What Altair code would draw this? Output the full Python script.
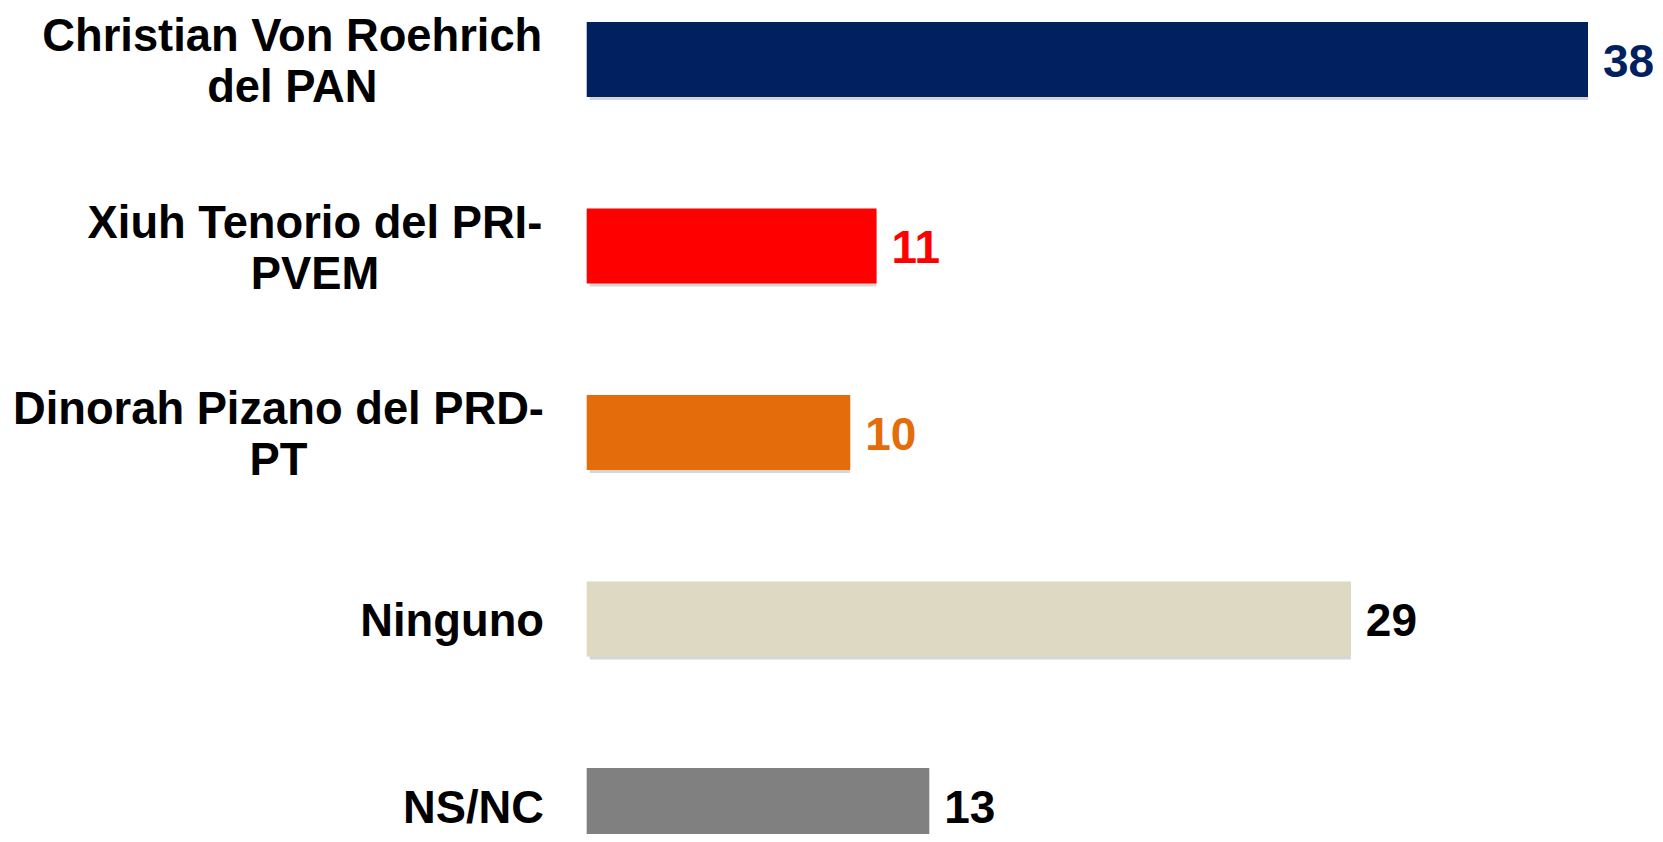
import altair as alt
import pandas as pd

# ---- data ----
labels = [
    "Christian Von Roehrich\ndel PAN",
    "Xiuh Tenorio del PRI-\nPVEM",
    "Dinorah Pizano del PRD-\nPT",
    "Ninguno",
    "NS/NC",
]
values = [38, 11, 10, 29, 13]
bar_colors = ["#002060", "#FF0000", "#E46C0A", "#DDD9C3", "#808080"]
text_colors = ["#002060", "#FF0000", "#E46C0A", "#000000", "#000000"]

# ---- layout / style ----
FONT = "Liberation Sans"
FS = 45.3
VFS = 46
LH = 51
W, H = 1647, 826
PX_PER_UNIT = 26.35
ZERO_PX = 578.7          # where value 0 sits, from the plot's left edge
LABEL_RIGHT = 536        # right edge of category labels
STEP, BAND, TOP = 186.5, 75.0, 14.0

# Arial/Liberation Sans Bold advance widths (em)
AW = {
    " ": .278, "-": .333, "/": .278, "A": .722, "C": .722, "D": .722, "E": .667,
    "I": .278, "M": .833, "N": .722, "P": .667, "R": .722, "S": .667, "T": .611,
    "V": .667, "X": .667, "a": .556, "c": .556, "d": .611, "e": .556, "g": .611,
    "h": .611, "i": .278, "l": .278, "n": .611, "o": .611, "r": .389, "s": .556,
    "t": .333, "u": .611, "z": .5,
}


def text_w(s):
    return max(sum(AW.get(ch, .6) for ch in line) for line in s.split("\n")) * FS


df = pd.DataFrame({
    "label": labels,
    "value": values,
    "bcolor": bar_colors,
    "tcolor": text_colors,
    "vtext": [str(v) for v in values],
})
df["half"] = [-text_w(s) / 2 for s in labels]
df["shift"] = [3 - (s.count("\n")) * LH / 2 for s in labels]

n = len(labels)
pi = 1 - BAND / STEP
po = TOP / STEP
y_range_end = STEP * (n - pi + 2 * po)

xmin = -ZERO_PX / PX_PER_UNIT
xmax = (W - ZERO_PX) / PX_PER_UNIT
x_scale = alt.Scale(domain=[xmin, xmax], nice=False, zero=False)

y_enc = alt.Y(
    "label:N",
    sort=labels,
    axis=None,
    scale=alt.Scale(range=[0, y_range_end], paddingInner=pi, paddingOuter=po),
)

base = alt.Chart(df).transform_calculate(zero="0")

shadow = base.mark_bar(color="#000000", opacity=0.16, xOffset=3, yOffset=3).encode(
    x=alt.X("zero:Q", axis=None, scale=x_scale),
    x2="value:Q",
    y=y_enc,
)

bars = base.mark_bar().encode(
    x=alt.X("zero:Q", axis=None, scale=x_scale),
    x2="value:Q",
    y=y_enc,
    color=alt.Color("bcolor:N", scale=None),
)

vals = base.mark_text(
    align="left", baseline="middle", dx=15, dy=3, font=FONT, fontSize=VFS, fontWeight="bold"
).encode(
    x=alt.X("value:Q", axis=None, scale=x_scale),
    y=y_enc,
    text="vtext:N",
    color=alt.Color("tcolor:N", scale=None),
)

cats = base.mark_text(
    align="center", baseline="middle", font=FONT, fontSize=FS, fontWeight="bold",
    lineBreak="\n", lineHeight=LH, color="#000000",
    dx=alt.ExprRef("datum.half"),
    dy=alt.ExprRef("datum.shift"),
).encode(
    x=alt.value(LABEL_RIGHT),
    y=y_enc,
    text="label:N",
)

chart = (
    alt.layer(shadow, bars, vals, cats)
    .properties(width=W, height=H, padding=0, autosize="none", background="#FFFFFF")
    .configure_view(stroke=None)
)

chart.save("out.html", embed_options={"renderer": "svg", "actions": False})
